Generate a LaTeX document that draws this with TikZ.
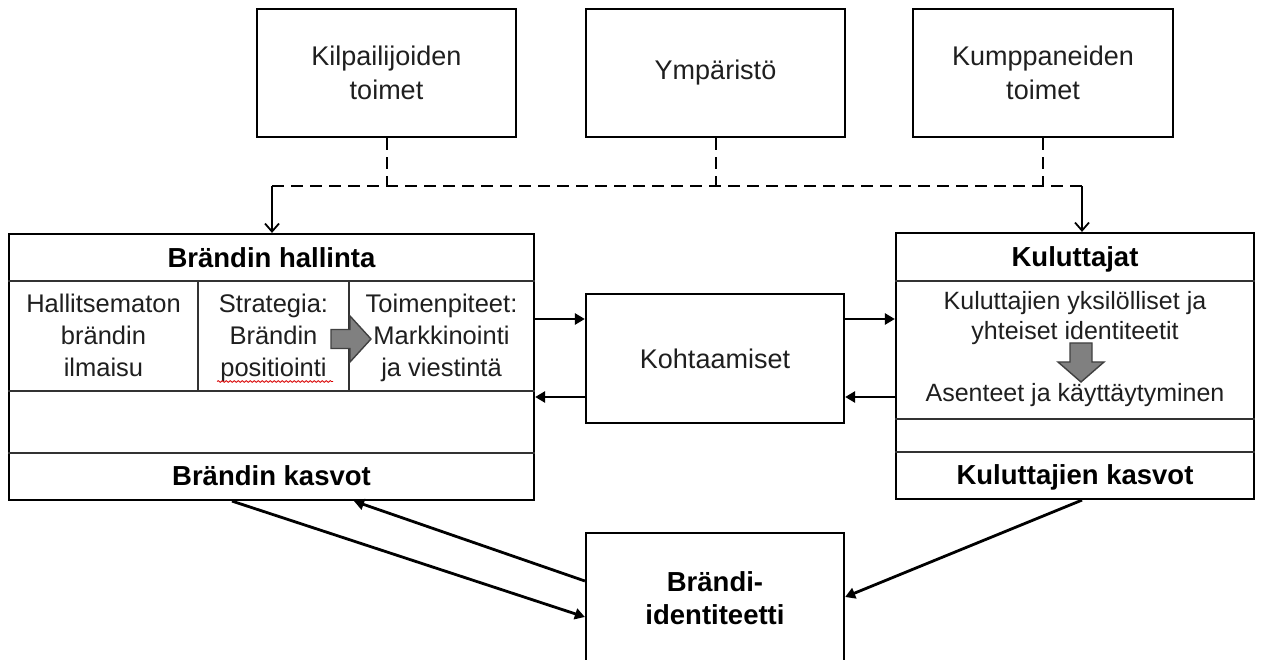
\documentclass[tikz,border=0pt]{standalone}
\usepackage{fontspec}
\setmainfont{Liberation Sans}
\usetikzlibrary{arrows.meta,decorations.pathmorphing,calc}
\begin{document}
\begin{tikzpicture}[x=1pt,y=-1pt,
  frame/.style={draw=black, line width=2.2pt, inner sep=0pt, fill=white},
  divider/.style={draw=black!80, line width=1.2pt},
  txt/.style={font=\fontsize{27}{34}\selectfont, align=center, text=black!88},
  btxt/.style={font=\fontsize{27.5}{33}\selectfont\bfseries, align=center, text=black},
  stxt/.style={font=\fontsize{25.5}{32}\selectfont, align=center, text=black!88},
  rtxt/.style={font=\fontsize{25}{30}\selectfont, align=center, text=black!88},
  conn/.style={draw=black, line width=2.8pt, -{Triangle[length=10pt,width=11pt]}},
  dashconn/.style={draw=black, line width=2pt, dash pattern=on 12pt off 7pt},
  drop/.style={draw=black, line width=1.8pt, -{Straight Barb[length=8pt,width=14pt,line width=1.8pt]}},
  blockarrow/.style={fill=black!50, draw=black!75, line width=1.4pt, line join=miter}
]
\fill[white] (0,0) rectangle (1264,660);
\useasboundingbox (0,0) rectangle (1264,660);

% top boxes
\node[frame, txt, minimum width=259pt, minimum height=128pt] (kilp) at (386.5,73) {Kilpailijoiden\\toimet};
\node[frame, txt, minimum width=259pt, minimum height=128pt] (ymp) at (715.5,73) {Ympäristö};
\node[frame, txt, minimum width=260pt, minimum height=128pt] (kump) at (1043,73) {Kumppaneiden\\toimet};

% main boxes
\node[frame, minimum width=525pt, minimum height=266pt] (hall) at (271.5,367) {};
\node[frame, minimum width=358pt, minimum height=266pt] (kul) at (1075,366) {};
\node[frame, txt, minimum width=258pt, minimum height=129pt] (koht) at (715,358.5) {Kohtaamiset};
\node[frame, txt, font=\fontsize{27.5}{33}\selectfont\bfseries, text=black, minimum width=258pt, minimum height=130pt] (bid) at (715,598) {Brändi-\\identiteetti};

% left box internal lines
\draw[divider] (hall.west |- 0,281) -- (hall.east |- 0,281);
\draw[divider] (hall.west |- 0,391) -- (hall.east |- 0,391);
\draw[divider] (hall.west |- 0,453) -- (hall.east |- 0,453);
\draw[divider] (198,281) -- (198,391);
\draw[divider] (349,281) -- (349,391);

% right box internal lines
\draw[divider] (kul.west |- 0,281) -- (kul.east |- 0,281);
\draw[divider] (kul.west |- 0,419) -- (kul.east |- 0,419);
\draw[divider] (kul.west |- 0,452) -- (kul.east |- 0,452);

% left box texts
\node[btxt] (hallT) at (271.5,258) {Brändin hallinta};
\node[stxt] (col1) at (103.5,335.7) {Hallitsematon\\brändin\\ilmaisu};
\node[stxt] (col2) at (273.5,338.4) {Strategia:\\Brändin\\positiointi};
\node[stxt] (col3) at (441.5,338.4) {Toimenpiteet:\\Markkinointi\\ja viestintä};
\node[btxt] (kasv) at (271.5,475.5) {Brändin kasvot};
\draw[red!85!black, line width=0.8pt, decorate, decoration={snake, amplitude=0.9pt, segment length=4pt}] (217,381.5) -- (333,381.5);

% right box texts
\node[btxt] (kulT) at (1075,259) {Kuluttajat};
\node[rtxt] (ident) at (1075,318.4) {Kuluttajien yksilölliset ja\\yhteiset identiteetit};
\node[rtxt] (asen) at (1075,395.4) {Asenteet ja käyttäytyminen};
\node[btxt] (kulK) at (1075,477) {Kuluttajien kasvot};

% block arrows
\draw[blockarrow] (331,329.5) -- (350,329.5) -- (350,316) -- (371,339) -- (350,362) -- (350,348.5) -- (331,348.5) -- cycle;
\draw[blockarrow] (1070,343) -- (1092,343) -- (1092,362) -- (1104,362) -- (1081,382) -- (1058,362) -- (1070,362) -- cycle;

% dashed influences
\coordinate (jl) at (272,186);
\coordinate (jr) at (1082,186);
\draw[dashconn] (jl) -- (jr);
\draw[dashconn] (kilp.south) -- (kilp.south |- jl);
\draw[dashconn] (ymp.south) -- (ymp.south |- jl);
\draw[dashconn] (kump.south) -- (kump.south |- jl);
\draw[drop] (jl) -- (hall.north -| jl);
\draw[drop] (jr) -- (kul.north -| jr);

% encounter arrows
\draw[conn] (hall.east |- 0,319) -- (koht.west |- 0,319);
\draw[conn] (koht.west |- 0,397) -- (hall.east |- 0,397);
\draw[conn] (koht.east |- 0,319) -- (kul.west |- 0,319);
\draw[conn] (kul.west |- 0,397) -- (koht.east |- 0,397);

% brand identity arrows
\draw[conn] (hall.south -| 232,0) -- (bid.west |- 0,617);
\draw[conn] (bid.west |- 0,581) -- (hall.south -| 354,0);
\draw[conn] (kul.south -| 1082,0) -- (bid.east |- 0,597);
\end{tikzpicture}
\end{document}
